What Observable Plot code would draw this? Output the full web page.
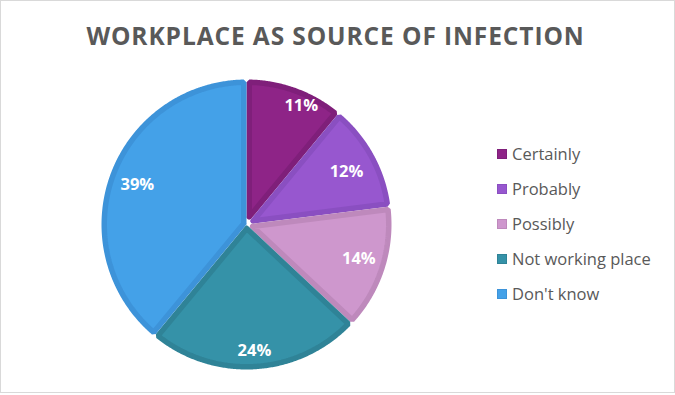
<!DOCTYPE html>
<html>
<head>
<meta charset="utf-8">
<script src="https://cdn.jsdelivr.net/npm/d3@7"></script>
<script src="https://cdn.jsdelivr.net/npm/@observablehq/plot@0.6"></script>
<style>
  html, body { margin: 0; padding: 0; background: #fff; }
  #chart { position: relative; width: 673px; height: 391px; border: 1px solid #D9D9D9; background: #fff; overflow: hidden; font-family: "Open Sans", sans-serif; }
  #title { position: absolute; left: 0; top: 18px; width: 669px; text-align: center; font-size: 24.5px; font-weight: 700; color: #595959; letter-spacing: 0.9px; white-space: nowrap; }
  #plot { position: absolute; left: 0; top: 70px; }
  #legend { position: absolute; left: 496px; top: 142px; }
  .item { height: 35px; display: flex; align-items: flex-start; font-size: 16.5px; color: #595959; line-height: 22px; }
  .sw { width: 10px; height: 10px; margin-top: 6px; margin-right: 5px; box-sizing: border-box; }
</style>
</head>
<body>
<div id="chart">
  <div id="title"></div>
  <div id="plot"></div>
  <div id="legend"></div>
</div>
<script>
const titleText = "WORKPLACE AS SOURCE OF INFECTION";
const categories = ["Certainly", "Probably", "Possibly", "Not working place", "Don't know"];
const values = [11, 12, 14, 24, 39];
const fillColors = ["#8E2487", "#9757CF", "#CE97CD", "#3592A8", "#44A1E8"];
const strokeColors = ["#7F1F7A", "#8A4FC1", "#BE89BC", "#2F8397", "#3D93D9"];

document.getElementById("title").textContent = titleText;

const R = 145;          // pie radius in px
const W = 490, H = 306; // svg size
const sw = 5.5;         // slice border width in px
const d = sw / 2;

const total = d3.sum(values);
let acc = 0;
const slices = categories.map((name, i) => {
  const a0 = acc / total * 2 * Math.PI;
  acc += values[i];
  const a1 = acc / total * 2 * Math.PI;
  return {name, value: values[i], a0, a1, fill: fillColors[i], stroke: strokeColors[i]};
});

// Polygon points for each slice (inset by half the border width, in units of R)
const pts = [];
for (const s of slices) {
  const half = (s.a1 - s.a0) / 2;
  const mid = (s.a0 + s.a1) / 2;
  const apex = (d / Math.sin(half)) / R;
  const rr = (R - d) / R;
  const da = Math.asin(d / (R - d));
  pts.push({name: s.name, x: apex * Math.sin(mid), y: apex * Math.cos(mid), fill: s.fill, stroke: s.stroke});
  const b0 = s.a0 + da, b1 = s.a1 - da;
  const n = Math.max(2, Math.ceil((b1 - b0) / (Math.PI / 360)));
  for (let k = 0; k <= n; k++) {
    const a = b0 + (b1 - b0) * k / n;
    pts.push({name: s.name, x: rr * Math.sin(a), y: rr * Math.cos(a), fill: s.fill, stroke: s.stroke});
  }
  pts.push({name: s.name, x: apex * Math.sin(mid), y: apex * Math.cos(mid), fill: s.fill, stroke: s.stroke});
}

// label placement (radius fraction, angle offset in degrees)
const labelR = [0.9, 0.78, 0.81, 0.87, 0.8];
const labelDa = [5, 1, -1, 0, 0];
const labels = slices.map((s, i) => {
  const mid = (s.a0 + s.a1) / 2 + labelDa[i] * Math.PI / 180;
  return {label: Math.round(s.value) + "%", x: labelR[i] * Math.sin(mid), y: labelR[i] * Math.cos(mid)};
});

const xr = W / 2 / R, yr = H / 2 / R;
const chart = Plot.plot({
  width: W,
  height: H,
  margin: 0,
  x: {domain: [-xr, xr], axis: null},
  y: {domain: [-yr, yr], axis: null},
  color: {type: "identity"},
  marks: [
    Plot.line(pts, {x: "x", y: "y", z: "name", fill: "fill", stroke: "stroke", strokeWidth: sw, strokeLinejoin: "miter", curve: "linear"}),
    Plot.text(labels, {x: "x", y: "y", text: "label", fill: "white", fontSize: 16.5, fontWeight: "bold", fontFamily: "Open Sans, sans-serif"})
  ],
  style: {background: "transparent", overflow: "visible"}
});
document.getElementById("plot").appendChild(chart);

const legend = document.getElementById("legend");
categories.forEach((c, i) => {
  const it = document.createElement("div");
  it.className = "item";
  const sq = document.createElement("div");
  sq.className = "sw";
  sq.style.background = fillColors[i];
  sq.style.border = "1px solid " + strokeColors[i];
  const t = document.createElement("span");
  t.textContent = c;
  it.appendChild(sq);
  it.appendChild(t);
  legend.appendChild(it);
});
</script>
</body>
</html>
